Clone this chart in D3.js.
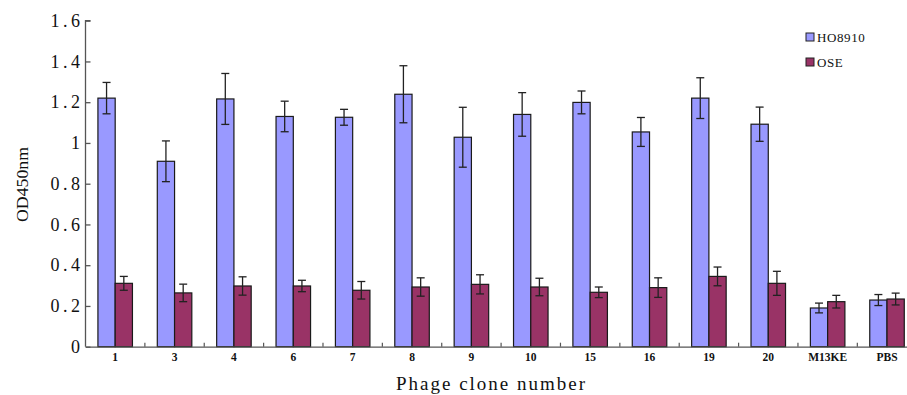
<!DOCTYPE html>
<html lang="en">
<head>
    <meta charset="UTF-8">
    <title>OD450nm by phage clone</title>
    <script src="https://d3js.org/d3.v7.min.js"></script>
    <style>
        body { margin: 0; background: #fff; }
        svg { display: block; }
        .tick-label { font-family: "Liberation Serif", serif; }
    </style>
</head>
<body>
    <svg id="chart" width="907" height="395"></svg>

    <script>
        // Data
        const clones = ["1", "3", "4", "6", "7", "8", "9", "10", "15", "16", "19", "20", "M13KE", "PBS"];
        const seriesNames = ["HO8910", "OSE"];
        const ho8910 = [1.22, 0.91, 1.216, 1.13, 1.126, 1.239, 1.028, 1.14, 1.199, 1.054, 1.22, 1.092, 0.19, 0.229];
        const ho8910Err = [0.077, 0.10, 0.125, 0.075, 0.039, 0.14, 0.147, 0.107, 0.056, 0.071, 0.10, 0.084, 0.024, 0.027];
        const ose = [0.311, 0.264, 0.298, 0.298, 0.277, 0.293, 0.306, 0.293, 0.267, 0.290, 0.345, 0.311, 0.221, 0.234];
        const oseErr = [0.034, 0.043, 0.045, 0.028, 0.043, 0.045, 0.047, 0.043, 0.026, 0.048, 0.046, 0.059, 0.031, 0.029];
        const yTicks = [0, 0.2, 0.4, 0.6, 0.8, 1, 1.2, 1.4, 1.6];

        const colors = { HO8910: "#9999FF", OSE: "#993366" };

        // table built from the arrays above
        const table = clones.map((c, i) => ({
            clone: c,
            values: [
                { key: "HO8910", value: ho8910[i], err: ho8910Err[i] },
                { key: "OSE", value: ose[i], err: oseErr[i] }
            ]
        }));

        const svg = d3.select("#chart");

        // plot area (the right end runs past the window, as in the original)
        const plotLeft = 85.5, plotRight = 916.7, plotTop = 20.7, plotBottom = 346.7;

        const x0 = d3.scaleBand()
            .domain(clones)
            .range([plotLeft, plotRight])
            .padding(0);

        const x1 = d3.scaleBand()
            .domain(seriesNames)
            .range([0, x0.bandwidth()])
            .paddingInner(0)
            .paddingOuter(0.72);

        const y = d3.scaleLinear()
            .domain([0, 1.6])
            .range([plotBottom, plotTop]);

        // bars
        const groups = svg.selectAll(".group")
            .data(table)
            .enter()
            .append("g")
            .attr("class", "group")
            .attr("transform", d => `translate(${x0(d.clone)},0)`);

        groups.selectAll("rect")
            .data(d => d.values)
            .enter()
            .append("rect")
            .attr("x", d => x1(d.key))
            .attr("y", d => y(d.value))
            .attr("width", x1.bandwidth())
            .attr("height", d => y(0) - y(d.value))
            .attr("fill", d => colors[d.key])
            .attr("stroke", "#1a1a1a")
            .attr("stroke-width", 1.2);

        // error bars
        const capW = 4;
        const err = groups.selectAll(".err")
            .data(d => d.values)
            .enter()
            .append("g")
            .attr("class", "err")
            .attr("stroke", "#222")
            .attr("stroke-width", 1.3);

        err.append("line")
            .attr("x1", d => x1(d.key) + x1.bandwidth() / 2)
            .attr("x2", d => x1(d.key) + x1.bandwidth() / 2)
            .attr("y1", d => y(d.value + d.err))
            .attr("y2", d => y(d.value - d.err));

        err.append("line")
            .attr("x1", d => x1(d.key) + x1.bandwidth() / 2 - capW)
            .attr("x2", d => x1(d.key) + x1.bandwidth() / 2 + capW)
            .attr("y1", d => y(d.value + d.err))
            .attr("y2", d => y(d.value + d.err));

        err.append("line")
            .attr("x1", d => x1(d.key) + x1.bandwidth() / 2 - capW)
            .attr("x2", d => x1(d.key) + x1.bandwidth() / 2 + capW)
            .attr("y1", d => y(d.value - d.err))
            .attr("y2", d => y(d.value - d.err));

        // y axis
        const yAxis = svg.append("g")
            .attr("transform", `translate(${plotLeft},0)`)
            .call(d3.axisRight(y)
                .tickValues(yTicks)
                .tickSize(5)
                .tickFormat(d => d === 0 || d === 1 ? String(d) : d.toFixed(1)));
        yAxis.select(".domain").attr("stroke", "#555").attr("stroke-width", 1.3)
            .attr("d", `M5,${plotTop}H0V${plotBottom}`);
        yAxis.selectAll(".tick line").attr("stroke", "#555").attr("stroke-width", 1.3);
        yAxis.selectAll(".tick text")
            .attr("x", -2)
            .attr("text-anchor", "end")
            .attr("class", "tick-label")
            .attr("font-size", "18px")
            .attr("letter-spacing", "3.5px")
            .attr("fill", "#111");

        // x axis: labels under each category, ticks at category boundaries
        const xAxis = svg.append("g")
            .attr("transform", `translate(0,${plotBottom})`)
            .call(d3.axisBottom(x0).tickSize(0).tickPadding(6));
        xAxis.select(".domain").attr("stroke", "#555").attr("stroke-width", 1.3);
        xAxis.selectAll(".tick text")
            .attr("class", "tick-label")
            .attr("font-size", "11.5px")
            .attr("font-weight", "bold")
            .attr("fill", "#111");

        svg.append("g")
            .selectAll("line")
            .data(clones.slice(1))
            .enter()
            .append("line")
            .attr("x1", d => x0(d))
            .attr("x2", d => x0(d))
            .attr("y1", plotBottom)
            .attr("y2", plotBottom - 4)
            .attr("stroke", "#555")
            .attr("stroke-width", 1.2);

        // axis titles
        svg.append("text")
            .attr("x", 396)
            .attr("y", 390)
            .attr("font-family", "Liberation Serif, serif")
            .attr("font-size", "19px")
            .attr("textLength", 189)
            .attr("lengthAdjust", "spacing")
            .attr("fill", "#111")
            .text("Phage clone number");

        svg.append("text")
            .attr("transform", "translate(28,222) rotate(-90)")
            .attr("font-family", "Liberation Serif, serif")
            .attr("font-size", "16px")
            .attr("textLength", 75)
            .attr("lengthAdjust", "spacingAndGlyphs")
            .attr("fill", "#111")
            .text("OD450nm");

        // legend
        const legend = svg.append("g")
            .selectAll("g")
            .data(seriesNames)
            .enter()
            .append("g")
            .attr("transform", (d, i) => `translate(806,${33 + i * 25})`);

        legend.append("rect")
            .attr("width", 8)
            .attr("height", 8)
            .attr("fill", d => colors[d])
            .attr("stroke", "#222")
            .attr("stroke-width", 1);

        legend.append("text")
            .attr("x", 11)
            .attr("y", 8.5)
            .attr("font-family", "Liberation Serif, serif")
            .attr("font-size", "13px")
            .attr("letter-spacing", "0.6px")
            .attr("fill", "#111")
            .text(d => d);
    </script>
</body>
</html>
